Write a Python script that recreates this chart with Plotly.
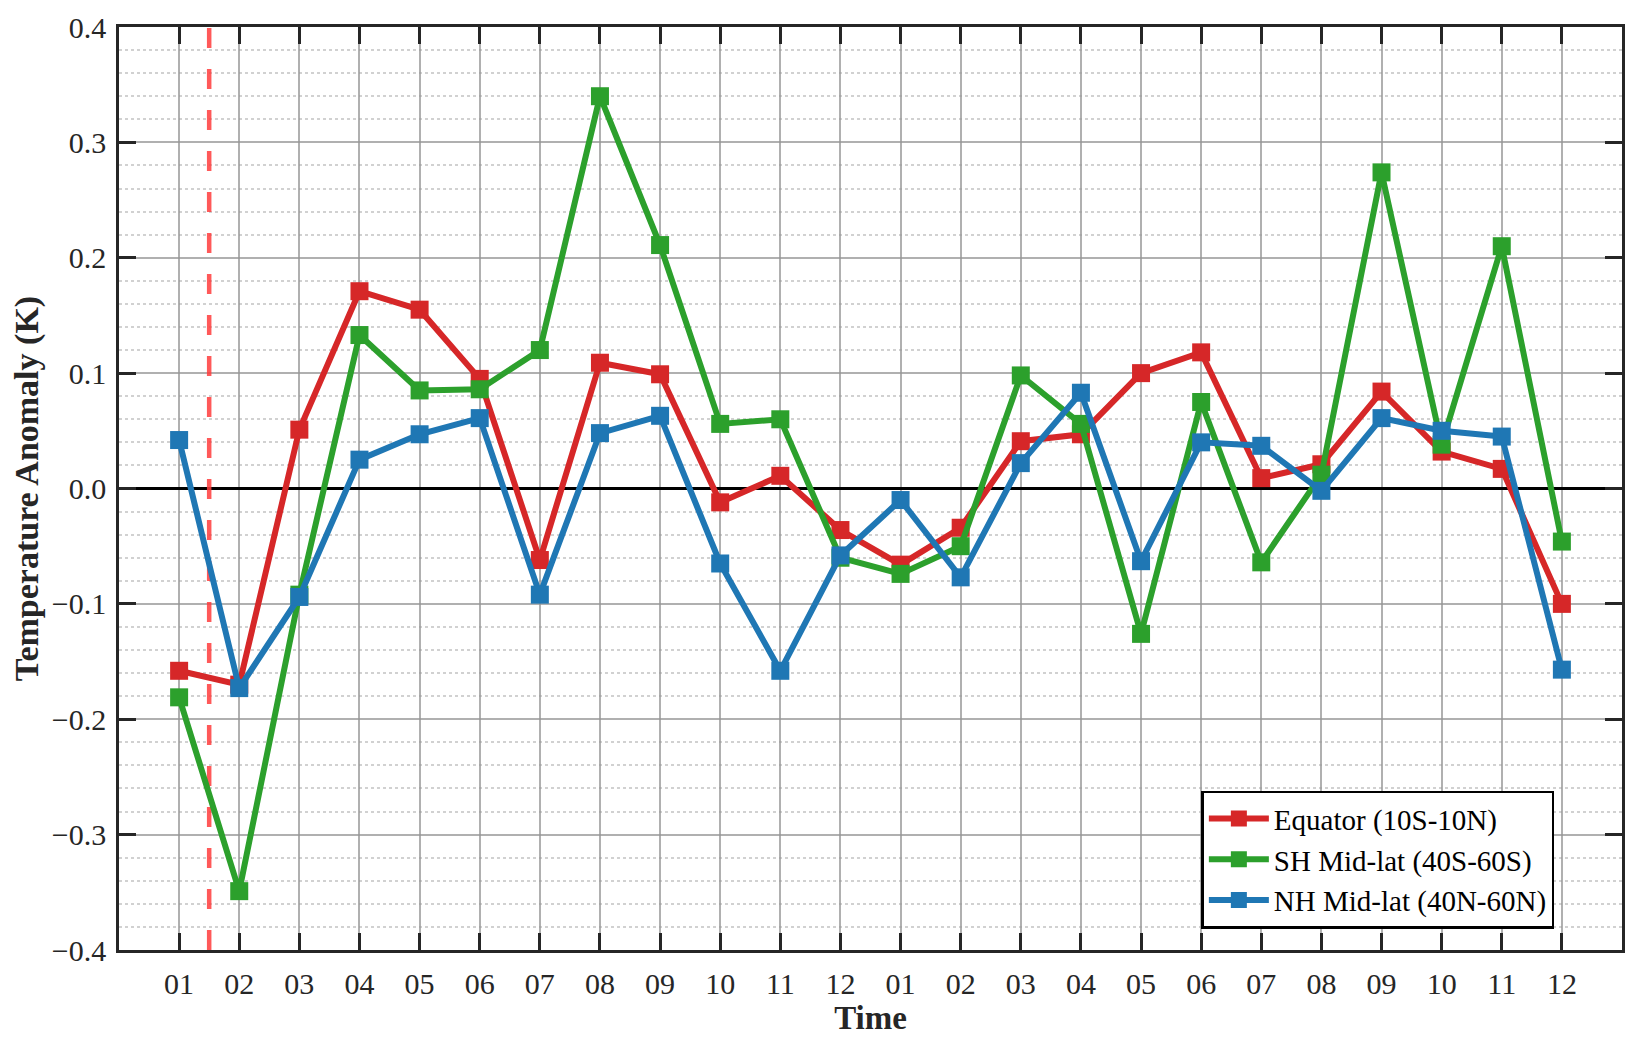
import plotly.graph_objects as go

month_labels = ["01", "02", "03", "04", "05", "06", "07", "08", "09", "10", "11", "12",
                "01", "02", "03", "04", "05", "06", "07", "08", "09", "10", "11", "12"]
x_index = list(range(1, 25))

equator = [-0.158, -0.170, 0.051, 0.171, 0.155, 0.095, -0.062, 0.109, 0.099, -0.012, 0.011, -0.036,
           -0.066, -0.034, 0.041, 0.047, 0.100, 0.118, 0.009, 0.021, 0.084, 0.032, 0.017, -0.100]
sh_midlat = [-0.181, -0.349, -0.092, 0.133, 0.085, 0.086, 0.120, 0.340, 0.211, 0.056, 0.060, -0.060,
             -0.074, -0.050, 0.098, 0.056, -0.126, 0.075, -0.064, 0.012, 0.274, 0.038, 0.210, -0.046]
nh_midlat = [0.042, -0.173, -0.094, 0.025, 0.047, 0.061, -0.092, 0.048, 0.063, -0.065, -0.158, -0.058,
             -0.010, -0.077, 0.022, 0.083, -0.063, 0.040, 0.037, -0.002, 0.061, 0.050, 0.045, -0.157]

series_names = ["Equator (10S-10N)", "SH Mid-lat (40S-60S)", "NH Mid-lat (40N-60N)"]
series_colors = ["#d62728", "#2ca02c", "#1f77b4"]
marker_x = 1.5

FONT = "Liberation Serif"
TXT = "#262626"

fig = go.Figure()

# red dashed marker line
fig.add_trace(go.Scatter(
    x=[marker_x, marker_x], y=[-0.4, 0.4], mode="lines",
    line=dict(color="rgba(255,60,60,0.85)", width=4.5, dash="20px,21px"),
    showlegend=False, hoverinfo="skip"))

for name, vals, col in zip(series_names, [equator, sh_midlat, nh_midlat], series_colors):
    fig.add_trace(go.Scatter(
        x=x_index, y=vals, mode="lines+markers", name=name,
        line=dict(color=col, width=6),
        marker=dict(symbol="square", size=18, color=col, line=dict(width=0))))

fig.update_layout(
    width=1645, height=1050,
    margin=dict(l=111, r=31, t=19, b=108, autoexpand=False),
    paper_bgcolor="white", plot_bgcolor="white",
    font=dict(family=FONT, size=30, color=TXT),
    showlegend=True,
    legend=dict(
        x=0.955, y=0.023, xanchor="right", yanchor="bottom",
        bgcolor="white", bordercolor="black", borderwidth=2.5,
        font=dict(family=FONT, size=29, color="black"),
        itemwidth=60, tracegroupgap=0,
    ),
)

fig.update_xaxes(
    range=[0, 25], automargin=False,
    tickmode="array", tickvals=x_index, ticktext=month_labels,
    ticks="inside", ticklen=17, tickwidth=2.5, tickcolor="#262626",
    showline=True, linecolor="#262626", linewidth=2.5, mirror="ticks",
    showgrid=True, gridcolor="rgba(150,150,150,0.75)", gridwidth=2,
    zeroline=False,
    tickfont=dict(family=FONT, size=30, color=TXT),
    ticklabelstandoff=5,
    title=dict(text="<b>Time</b>", font=dict(family=FONT, size=33, color=TXT), standoff=6),
)

fig.update_yaxes(
    range=[-0.4, 0.4], automargin=False,
    tickmode="linear", tick0=-0.4, dtick=0.1, tickformat=".1f",
    ticks="inside", ticklen=17, tickwidth=2.5, tickcolor="#262626",
    showline=True, linecolor="#262626", linewidth=2.5, mirror="ticks",
    showgrid=True, gridcolor="rgba(150,150,150,0.75)", gridwidth=2,
    zeroline=True, zerolinecolor="black", zerolinewidth=2.5,
    minor=dict(dtick=0.02, tick0=0, showgrid=True, gridcolor="rgba(190,190,190,0.7)",
               griddash="dot", gridwidth=1.5, ticks=""),
    tickfont=dict(family=FONT, size=30, color=TXT),
    ticklabelstandoff=4,
    title=dict(text="<b>Temperature Anomaly (K)</b>", font=dict(family=FONT, size=34, color=TXT), standoff=10),
)

fig.write_html("out.html")
